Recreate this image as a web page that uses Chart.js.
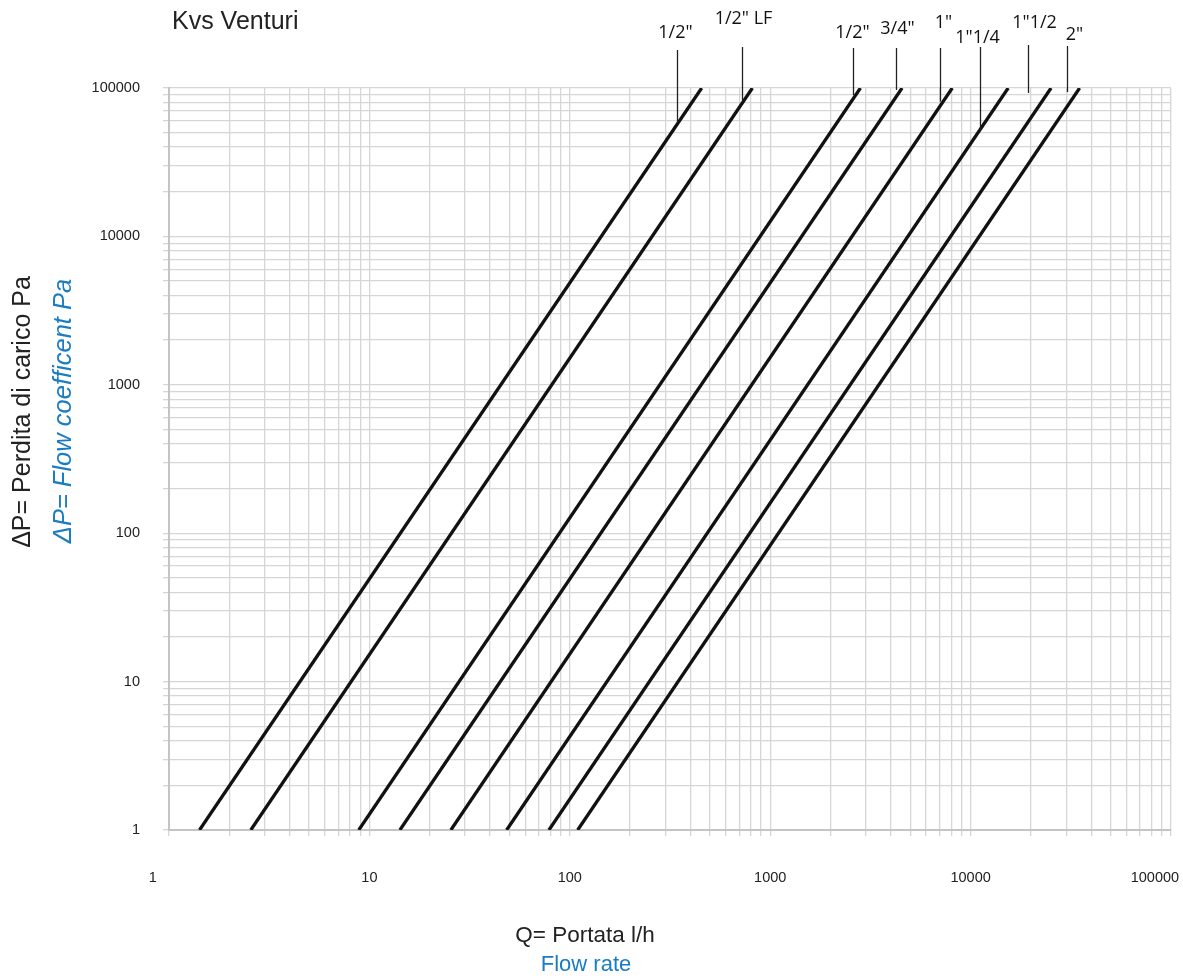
<!DOCTYPE html>
<html>
<head>
<meta charset="utf-8">
<title>Kvs Venturi</title>
<script src="https://cdn.jsdelivr.net/npm/chart.js@4.4.1/dist/chart.umd.min.js"></script>
<style>
    html, body { margin: 0; padding: 0; background: #ffffff; }
    #wrap { width: 1183px; height: 978px; }
</style>
</head>
<body>
<div id="wrap"><canvas id="kvsChart" width="1183" height="978"></canvas></div>
<script>
/////////////////////////////// data ///////////////////////////////
const sizes = ['1/2"', '1/2" LF', '1/2"', '3/4"', '1"', '1"1/4', '1"1/2', '2"'];
// flow rate l/h where each valve line starts (dP = 1 Pa) and ends (dP = 100000 Pa)
const flowAtMinDp = [1.42, 2.56, 8.85, 14.2, 25.5, 48.4, 78.7, 109.5];
const flowAtMaxDp = [455, 815, 2820, 4550, 8100, 15400, 25200, 35000];
const dpRange = [1, 100000];
// where each size label's leader line touches down (flow, dP)
const leaderFlow = [342, 723, 2590, 4245, 7035, 11140, 19330, 30180];
const leaderDp = [58100, 83000, 89700, 97000, 80900, 52100, 92500, 93800];
// labelled ticks
const xTickLabels = [1, 10, 100, 1000, 10000, 100000];
const yTickLabels = [1, 10, 100, 1000, 10000, 100000];

const titleText = 'Kvs Venturi';
const yTitle = 'ΔP= Perdita di carico Pa';
const yTitleEn = 'ΔP= Flow coefficent Pa';
const xTitle = 'Q= Portata l/h';
const xTitleEn = 'Flow rate';

///////////////////////////////////////////////////////////////////////////////////////
const sansFont = '"Liberation Sans", Arial, Helvetica, sans-serif';
const blue = '#1a7cc2';
const gridGrey = '#d6d6d6';

// label placement above the plot (pixels), one per size
const labelPlace = [
    { dx: -2, y: 33, top: 50 },
    { dx: 1, y: 19, top: 47 },
    { dx: -1, y: 33, top: 48 },
    { dx: 1, y: 29, top: 48 },
    { dx: 3, y: 23, top: 48 },
    { dx: -3, y: 38, top: 47 },
    { dx: 6, y: 23, top: 45 },
    { dx: 7, y: 35, top: 46 }
];

function decadeTicks(scale) {
    const labels = scale.axis === 'x' ? xTickLabels : yTickLabels;
    const ticks = [];
    for (let i = 0; i < labels.length - 1; i++) {
        for (let k = 1; k < 10; k++) {
            ticks.push({ value: labels[i] * k, major: k === 1 });
        }
    }
    ticks.push({ value: labels[labels.length - 1], major: true });
    scale.ticks = ticks;
}

let datasets = [];
for (let i = 0; i < sizes.length; i++) {
    datasets.push({
        label: sizes[i],
        data: [
            { x: flowAtMinDp[i], y: dpRange[0] },
            { x: flowAtMaxDp[i], y: dpRange[1] }
        ],
        borderColor: '#111111',
        borderWidth: 3.3,
        borderCapStyle: 'butt',
        pointRadius: 0,
        fill: false,
        tension: 0
    });
}

////////////////////////////// titles + size labels //////////////////////////////
const decorations = {
    id: 'decorations',
    afterDraw(chart) {
        const ctx = chart.ctx;
        const xs = chart.scales.x;
        const ys = chart.scales.y;
        ctx.save();

        // chart title
        ctx.fillStyle = '#222222';
        ctx.font = '25px ' + sansFont;
        ctx.textAlign = 'left';
        ctx.textBaseline = 'middle';
        ctx.fillText(titleText, 172, 22);

        // y axis titles (rotated)
        ctx.save();
        ctx.translate(23, 412);
        ctx.rotate(-Math.PI / 2);
        ctx.textAlign = 'center';
        ctx.fillStyle = '#222222';
        ctx.font = '25px ' + sansFont;
        ctx.fillText(yTitle, 0, 0);
        ctx.restore();

        ctx.save();
        ctx.translate(64, 411);
        ctx.rotate(-Math.PI / 2);
        ctx.textAlign = 'center';
        ctx.fillStyle = blue;
        ctx.font = 'italic 25.5px ' + sansFont;
        ctx.fillText(yTitleEn, 0, 0);
        ctx.restore();

        // x axis titles
        ctx.textAlign = 'center';
        ctx.fillStyle = '#222222';
        ctx.font = '22.5px ' + sansFont;
        ctx.fillText(xTitle, 585, 936);
        ctx.fillStyle = blue;
        ctx.font = '22px ' + sansFont;
        ctx.fillText(xTitleEn, 586, 965);

        // size labels with leader lines
        ctx.strokeStyle = '#222222';
        ctx.lineWidth = 1.3;
        ctx.fillStyle = '#111111';
        ctx.font = '18px "Open Sans", "DejaVu Sans", sans-serif';
        for (let i = 0; i < sizes.length; i++) {
            const px = Math.round(xs.getPixelForValue(leaderFlow[i])) + 0.5;
            const py = ys.getPixelForValue(leaderDp[i]);
            ctx.beginPath();
            ctx.moveTo(px, labelPlace[i].top);
            ctx.lineTo(px, py);
            ctx.stroke();
            ctx.fillText(sizes[i], px + labelPlace[i].dx, labelPlace[i].y);
        }
        ctx.restore();
    }
};

// first and last x labels sit a little inside their grid lines on the original
const edgePad = '        ';

const ctx = document.getElementById('kvsChart').getContext('2d');
const kvsChart = new Chart(ctx, {
    type: 'line',
    data: { datasets: datasets },
    plugins: [decorations],
    options: {
        responsive: false,
        animation: false,
        layout: { padding: { top: 88, right: 12, left: 0, bottom: 0 } },
        plugins: {
            legend: { display: false },
            tooltip: { enabled: false }
        },
        scales: {
            x: {
                type: 'logarithmic',
                min: 1,
                max: 100000,
                afterBuildTicks: decadeTicks,
                afterFit: (scale) => { scale.height = 148; scale.paddingLeft = 0; scale.paddingRight = 0; },
                grid: { color: gridGrey, lineWidth: 1.3, tickLength: 6, tickColor: gridGrey },
                border: { display: true, color: '#c4c4c4', width: 2 },
                ticks: {
                    autoSkip: false,
                    maxRotation: 0,
                    padding: 33,
                    color: '#222222',
                    font: { family: sansFont, size: 14.5 },
                    callback: (v, i, ticks) => {
                        if (!xTickLabels.includes(v)) return '';
                        const edge = i === 0 || i === ticks.length - 1;
                        return String(v) + (edge ? edgePad : '');
                    }
                }
            },
            y: {
                type: 'logarithmic',
                min: 1,
                max: 100000,
                afterBuildTicks: decadeTicks,
                afterFit: (scale) => { scale.width = 169; scale.paddingTop = 0; scale.paddingBottom = 0; },
                grid: { color: gridGrey, lineWidth: 1.3, tickLength: 6, tickColor: gridGrey },
                border: { display: true, color: '#c4c4c4', width: 2 },
                ticks: {
                    autoSkip: false,
                    padding: 23,
                    color: '#222222',
                    font: { family: sansFont, size: 14.5 },
                    callback: (v) => yTickLabels.includes(v) ? String(v) : ''
                }
            }
        }
    }
});
</script>
</body>
</html>
